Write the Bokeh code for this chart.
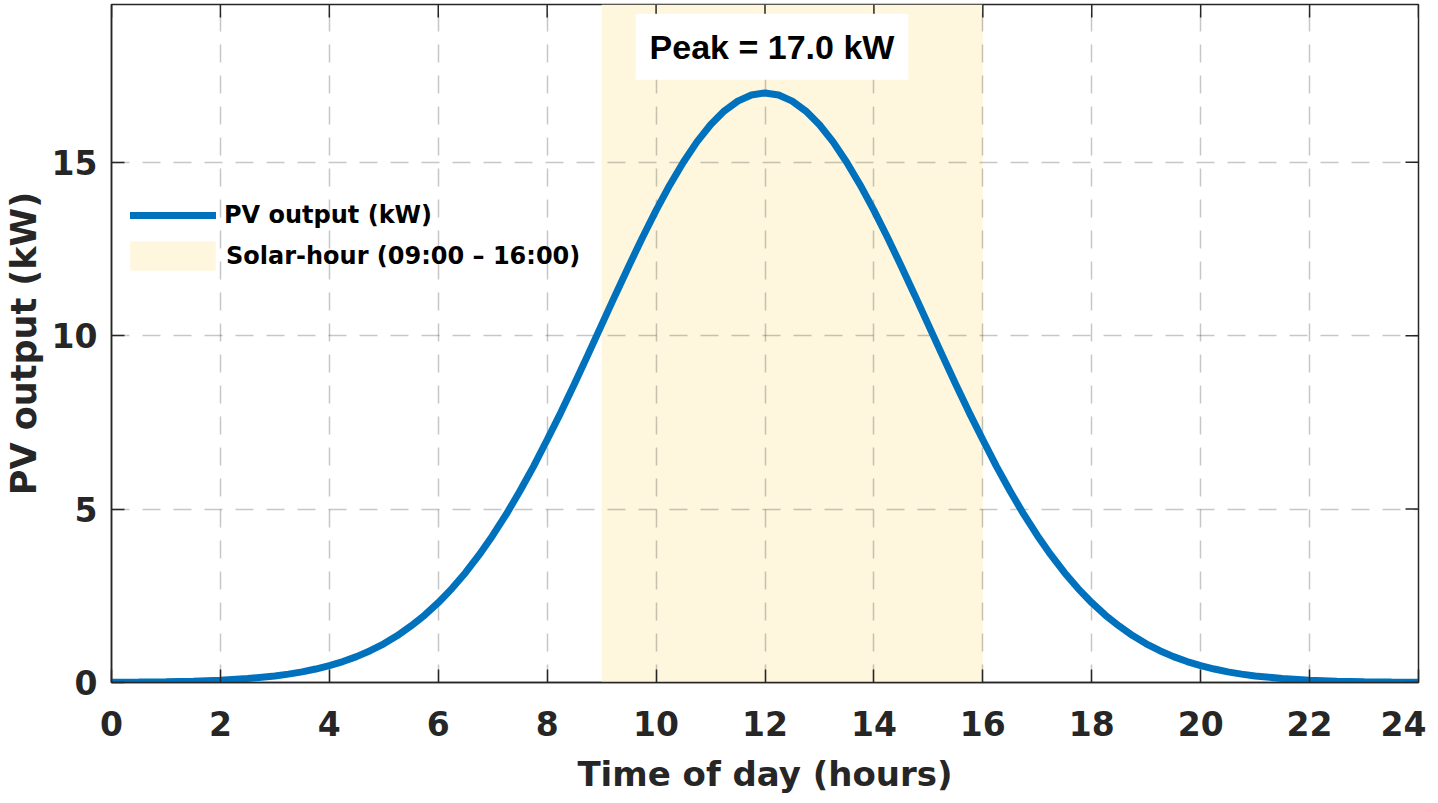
import math
from bokeh.plotting import figure
from bokeh.models import Range1d, FixedTicker, Legend, LegendItem, Label
from bokeh.embed import file_html
from bokeh.resources import INLINE

# ---- data ----
hours = [0, 0.5, 1, 1.5, 2, 2.5, 3, 3.25, 3.5, 3.75, 4, 4.25, 4.5, 4.75, 5, 5.25,
         5.5, 5.75, 6, 6.25, 6.5, 6.75, 7, 7.25, 7.5, 7.75, 8, 8.25, 8.5, 8.75,
         9, 9.25, 9.5, 9.75, 10, 10.25, 10.5, 10.75, 11, 11.25, 11.5, 11.75, 12,
         12.25, 12.5, 12.75, 13, 13.25, 13.5, 13.75, 14, 14.25, 14.5, 14.75, 15,
         15.25, 15.5, 15.75, 16, 16.25, 16.5, 16.75, 17, 17.25, 17.5, 17.75, 18,
         18.25, 18.5, 18.75, 19, 19.25, 19.5, 19.75, 20, 20.25, 20.5, 20.75, 21,
         21.5, 22, 22.5, 23, 23.5, 24]
pv_kw = [0.006, 0.011, 0.021, 0.037, 0.066, 0.113, 0.189, 0.242, 0.307, 0.388,
         0.486, 0.604, 0.747, 0.917, 1.117, 1.352, 1.630, 1.941, 2.301, 2.708,
         3.165, 3.677, 4.240, 4.854, 5.520, 6.232, 7.000, 7.783, 8.607, 9.454,
         10.311, 11.169, 12.012, 12.832, 13.612, 14.340, 15.003, 15.588, 16.083,
         16.477, 16.765, 16.941, 17.000,
         16.941, 16.765, 16.477, 16.083, 15.588, 15.003, 14.340, 13.612, 12.832,
         12.012, 11.169, 10.311, 9.454, 8.607, 7.783, 7.000, 6.232, 5.520, 4.854,
         4.240, 3.677, 3.165, 2.708, 2.301, 1.941, 1.630, 1.352, 1.117, 0.917,
         0.747, 0.604, 0.486, 0.388, 0.307, 0.242, 0.189,
         0.113, 0.066, 0.037, 0.021, 0.011, 0.006]
solar_start = 9
solar_end = 16
x_ticks = [0, 2, 4, 6, 8, 10, 12, 14, 16, 18, 20, 22, 24]
y_ticks = [0, 5, 10, 15]
X_MAX = 24
Y_MAX = 19.55

FONT = "DejaVu Sans"
PEAK_FONT = "Liberation Sans"
TXT = "#262626"
BLUE = "#0072BD"
SHADE = "#FEF6DD"
TICK_LEN = 13

p = figure(frame_width=1307, frame_height=678,
           x_range=Range1d(0, X_MAX), y_range=Range1d(0, Y_MAX),
           output_backend="svg", toolbar_location=None,
           min_border_left=106, min_border_right=8,
           min_border_top=4, min_border_bottom=0)
p.outline_line_color = TXT
p.outline_line_width = 1.5
p.background_fill_color = "white"

# shaded solar-hour window (drawn beneath the grid)
shade = p.quad(left=[solar_start], right=[solar_end], bottom=[0], top=[Y_MAX],
               fill_color=SHADE, line_color=None, level="image")

line = p.line(hours, pv_kw, line_color=BLUE, line_width=7, line_cap="round")

# mirrored inward ticks on the top and right edges
p.ray(x=x_ticks, y=[Y_MAX] * len(x_ticks), length=TICK_LEN, length_units="screen",
      angle=-math.pi / 2, line_color=TXT, line_width=1.5)
p.ray(x=[X_MAX] * len(y_ticks), y=y_ticks, length=TICK_LEN, length_units="screen",
      angle=math.pi, line_color=TXT, line_width=1.5)

xa = p.xaxis[0]
ya = p.yaxis[0]
for ax, ticks in ((xa, x_ticks), (ya, y_ticks)):
    ax.ticker = FixedTicker(ticks=ticks)
    ax.axis_line_color = TXT
    ax.axis_line_width = 1.5
    ax.major_tick_line_color = TXT
    ax.major_tick_line_width = 1.5
    ax.major_tick_in = TICK_LEN
    ax.major_tick_out = 0
    ax.minor_tick_line_color = None
    ax.major_label_text_font = FONT
    ax.major_label_text_font_style = "bold"
    ax.major_label_text_font_size = "33px"
    ax.major_label_text_color = TXT
    ax.axis_label_text_font = FONT
    ax.axis_label_text_font_style = "bold"
    ax.axis_label_text_color = TXT
xa.axis_label = "Time of day (hours)"
ya.axis_label = "PV output (kW)"
xa.axis_label_text_font_size = "34px"
ya.axis_label_text_font_size = "35px"
xa.major_label_standoff = 28
xa.axis_label_standoff = 15
ya.major_label_standoff = 14
ya.axis_label_standoff = 5

for g in (p.xgrid[0], p.ygrid[0]):
    g.grid_line_color = "black"
    g.grid_line_alpha = 0.22
    g.grid_line_width = 1.5
    g.grid_line_dash = "18 13"
p.xgrid[0].ticker = FixedTicker(ticks=x_ticks)
p.ygrid[0].ticker = FixedTicker(ticks=y_ticks)


def style_legend(lg):
    lg.padding = 0
    lg.margin = 0
    lg.border_line_color = None
    lg.background_fill_alpha = 0
    lg.label_text_font = FONT
    lg.label_text_font_style = "bold"
    lg.label_text_font_size = "24px"
    lg.label_text_color = "black"


legend_line = Legend(items=[LegendItem(label="PV output (kW)", renderers=[line])],
                     location=(19, 452))
style_legend(legend_line)
legend_line.glyph_width = 86
legend_line.glyph_height = 30
legend_line.label_standoff = 8
p.add_layout(legend_line)

legend_shade = Legend(items=[LegendItem(label="Solar-hour (09:00 \u2013 16:00)", renderers=[shade])],
                      location=(8, 408))
style_legend(legend_shade)
legend_shade.glyph_width = 107
legend_shade.glyph_height = 37
legend_shade.label_standoff = 0
p.add_layout(legend_shade)

peak_val = max(pv_kw)
peak_hour = hours[pv_kw.index(peak_val)]
peak = Label(x=peak_hour, y=18.33, x_offset=7,
             text=f"Peak = {peak_val:.1f} kW",
             text_align="center", text_baseline="middle",
             text_font=PEAK_FONT, text_font_style="bold", text_font_size="34px",
             text_color="black", background_fill_color="white",
             padding=14)
p.add_layout(peak)

open("out.html", "w").write(file_html(p, INLINE))
